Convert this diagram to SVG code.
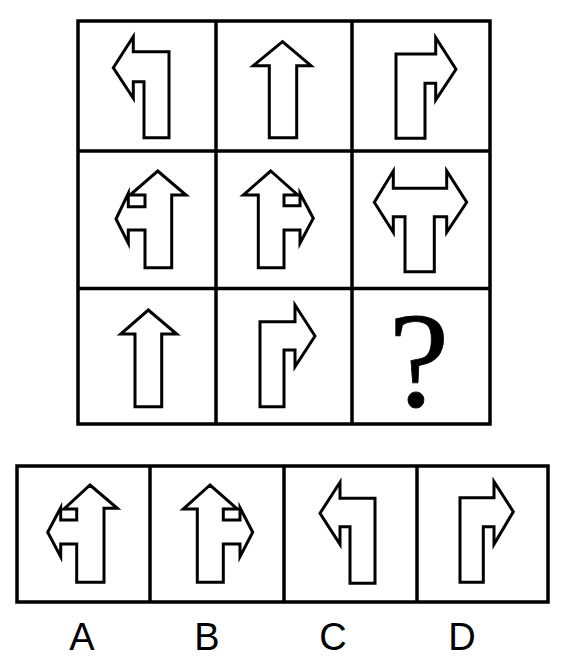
<svg xmlns="http://www.w3.org/2000/svg" width="565" height="663" viewBox="0 0 565 663">
<style>
.frame{fill:none;stroke:#000;stroke-width:3.5}
.arrow{fill:#fff;stroke:#000;stroke-width:3;stroke-linejoin:miter;stroke-miterlimit:10}
.label{font-family:"Liberation Sans",Arial,sans-serif;font-size:38px;fill:#000;text-anchor:middle}
.q{font-family:"Liberation Serif","Times New Roman",serif;font-size:136px;fill:#000;stroke:#000;stroke-width:0.8;text-anchor:middle}
</style>
<rect width="565" height="663" fill="#fff"/>
<g id="grid">
<rect class="frame" x="78" y="21" width="412" height="403"/>
<line class="frame" x1="216" y1="21" x2="216" y2="424"/>
<line class="frame" x1="352" y1="21" x2="352" y2="424"/>
<line class="frame" x1="78" y1="151" x2="490" y2="151"/>
<line class="frame" x1="78" y1="288.5" x2="490" y2="288.5"/>
</g>
<g id="options-frame">
<rect class="frame" x="17" y="466" width="531" height="136"/>
<line class="frame" x1="150" y1="466" x2="150" y2="602"/>
<line class="frame" x1="284" y1="466" x2="284" y2="602"/>
<line class="frame" x1="417" y1="466" x2="417" y2="602"/>
</g>
<g id="cell-1-1">
<polygon class="arrow" points="113.3,67.7 133.3,36.7 133.3,51.7 169,51.7 169,137.7 144,137.7 144,81.7 133.3,81.7 133.3,98.3"/>
</g>
<g id="cell-1-2">
<polygon class="arrow" points="282.5,41.7 311,65.7 296.7,65.7 296.7,137.7 269.3,137.7 269.3,65.7 253.3,65.7"/>
</g>
<g id="cell-1-3">
<polygon class="arrow" points="456,69.3 435.7,37.7 435.7,54 396,54 396,138.3 425,138.3 425,83.3 435.7,83.3 435.7,100"/>
</g>
<g id="cell-2-1">
<polygon class="arrow" points="157.7,171 186,195 171.7,195 171.7,267.7 145,267.7 145,230 128.3,230 128.3,243.3 116,219 128.3,193.3 128.3,206.7 145,206.7 145,195 130,195"/>
</g>
<g id="cell-2-2">
<polygon class="arrow" points="270.7,171 243.3,195 258.3,195 258.3,267.7 284,267.7 284,230 300,230 300,243.3 313.3,218.3 300,193.3 300,205.7 284,205.7 284,195 297.7,195"/>
</g>
<g id="cell-2-3">
<polygon class="arrow" points="374.3,202.3 393.3,171 393.3,188.3 446.7,188.3 446.7,171 466.7,202.3 446.7,232.3 446.7,216.7 434.3,216.7 434.3,271.7 405,271.7 405,216.7 393.3,216.7 393.3,232.3"/>
</g>
<g id="cell-3-1">
<polygon class="arrow" points="148.3,310 176.7,334 161.7,334 161.7,406.7 135,406.7 135,334 120.7,334"/>
</g>
<g id="cell-3-2">
<polygon class="arrow" points="315,336 295,305 295,321.7 260,321.7 260,406.7 284,406.7 284,350 295,350 295,366.7"/>
</g>
<g id="cell-3-3">
<text class="q" x="419" y="406">?</text>
</g>
<g id="option-A">
<polygon class="arrow" points="90,485 117.3,508.3 104,508.3 104,582.3 76.7,582.3 76.7,544 60.7,544 60.7,556.7 47.7,532.3 60.7,507.7 60.7,520 76.7,520 76.7,509 64,509"/>
<text class="label" x="82" y="650">A</text>
</g>
<g id="option-B">
<polygon class="arrow" points="210,485 183.3,509 197.3,509 197.3,582.3 223.3,582.3 223.3,544 240,544 240,556.7 252.7,532.3 240,507.7 240,520 223.3,520 223.3,509 237.3,509"/>
<text class="label" x="207" y="650">B</text>
</g>
<g id="option-C">
<polygon class="arrow" points="320,513.3 340,482.3 340,498.3 375,498.3 375,583.3 350,583.3 350,526.7 340,526.7 340,544.3"/>
<text class="label" x="333" y="650">C</text>
</g>
<g id="option-D">
<polygon class="arrow" points="513.3,511.7 494,481.7 494,497.7 460,497.7 460,582.3 483.3,582.3 483.3,526.7 494,526.7 494,544.3"/>
<text class="label" x="462" y="650">D</text>
</g>
</svg>
